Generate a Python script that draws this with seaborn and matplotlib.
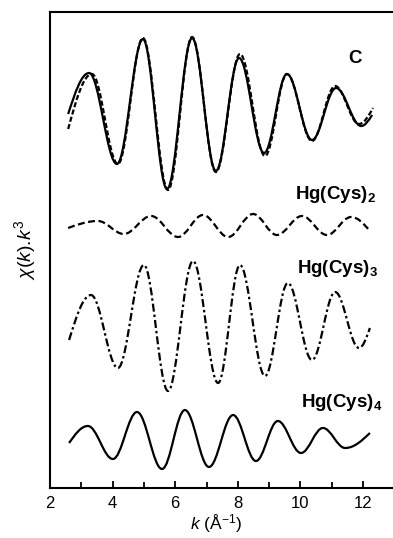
import numpy as np
import pandas as pd
import matplotlib
matplotlib.use("Agg")
import matplotlib.pyplot as plt
import seaborn as sns
from matplotlib.path import Path
from matplotlib.patches import PathPatch
from matplotlib.ticker import MultipleLocator

# ---- data (turning points of each k^3-weighted EXAFS trace) ----
k_C_exp = [2.58, 3.25, 4.14, 4.97, 5.74, 6.54, 7.30, 8.04, 8.84, 9.57, 10.37, 11.14, 11.94, 12.29]
chi_C_exp = [0.0, 4.1, -5.0, 7.5, -7.5, 7.6, -5.7, 5.6, -3.9, 4.0, -2.6, 2.6, -1.2, -0.1]

k_C_fit = [2.58, 3.34, 4.17, 4.97, 5.77, 6.54, 7.30, 8.07, 8.87, 9.57, 10.37, 11.11, 11.87, 12.32]
chi_C_fit = [-1.5, 4.0, -5.0, 7.6, -7.6, 7.7, -5.8, 6.0, -4.2, 4.0, -2.7, 2.8, -1.0, 0.6]

k_cys2 = [2.58, 3.53, 4.36, 5.23, 6.09, 6.89, 7.69, 8.49, 9.25, 10.05, 10.85, 11.62, 12.22]
chi_cys2 = [-0.2, 0.5, -0.8, 1.0, -1.1, 1.1, -1.1, 1.2, -0.9, 1.0, -0.9, 0.9, -0.5]

k_cys3 = [2.61, 3.31, 4.17, 5.00, 5.77, 6.57, 7.37, 8.07, 8.87, 9.60, 10.37, 11.11, 11.87, 12.22]
chi_cys3 = [-1.2, 3.3, -4.0, 6.3, -6.3, 6.7, -5.5, 6.3, -4.8, 4.5, -3.2, 3.6, -2.0, 0.0]

k_cys4 = [2.61, 3.21, 4.01, 4.78, 5.58, 6.31, 7.08, 7.85, 8.58, 9.28, 10.02, 10.72, 11.43, 12.22]
chi_cys4 = [-0.3, 1.4, -1.9, 2.8, -2.9, 3.0, -2.7, 2.5, -2.1, 1.9, -1.3, 1.2, -0.8, 0.7]

offsets = {"C": 37.4, "C fit": 37.4, "Hg(Cys)2": 26.2, "Hg(Cys)3": 16.0, "Hg(Cys)4": 4.8}
x_ticks = [2, 4, 6, 8, 10, 12]

# ---- style ----
sns.set_theme(style="ticks")
plt.rcParams["font.family"] = ["Liberation Sans", "DejaVu Sans"]
plt.rcParams["mathtext.fontset"] = "custom"
plt.rcParams["mathtext.rm"] = "Liberation Sans"
plt.rcParams["mathtext.it"] = "Liberation Sans:italic"
plt.rcParams["mathtext.bf"] = "Liberation Sans:bold"

fig = plt.figure(figsize=(3.93, 5.38), dpi=100)
# axes runs a little past the right edge of the picture, as in the reference
ax = fig.add_axes([50 / 393, 50 / 538, 350 / 393, 476 / 538])


def smooth_path(xs, ys):
    """Path through the turning points; the library renders smooth cubic segments."""
    verts = [(xs[0], ys[0])]
    codes = [Path.MOVETO]
    n = len(xs)
    for i in range(n - 1):
        x0, y0, x1, y1 = xs[i], ys[i], xs[i + 1], ys[i + 1]
        dx, dy = x1 - x0, y1 - y0
        if i == 0:
            c1 = (x0 + 0.334 * dx, y0 + 0.525 * dy)
        else:
            c1 = (x0 + 0.364 * dx, y0)
        if i + 1 == n - 1:
            c2 = (x1 - 0.334 * dx, y1 - 0.525 * dy)
        else:
            c2 = (x1 - 0.364 * dx, y1)
        verts += [c1, c2, (x1, y1)]
        codes += [Path.CURVE4] * 3
    return Path(verts, codes)


series = [
    (k_C_exp, chi_C_exp, "C", "-"),
    (k_C_fit, chi_C_fit, "C fit", (0, (2.3, 1.1))),
    (k_cys2, chi_cys2, "Hg(Cys)2", (0, (3.1, 1.6))),
    (k_cys3, chi_cys3, "Hg(Cys)3", (0, (3.6, 1.35, 1.1, 1.35))),
    (k_cys4, chi_cys4, "Hg(Cys)4", "-"),
]

for ks, chis, name, ls in series:
    df = pd.DataFrame({"k": ks, "chi": chis})
    y = (df["chi"] + offsets[name]).to_numpy()
    p = smooth_path(df["k"].to_numpy(), y)
    ax.add_patch(PathPatch(p, fill=False, edgecolor="black", lw=1.6,
                           linestyle=ls, capstyle="butt", joinstyle="round"))

ax.set_xlim(2, 2 + 350 / 31.3)
ax.set_ylim(0, 47.6)

ax.xaxis.set_major_locator(matplotlib.ticker.FixedLocator(x_ticks))
ax.xaxis.set_minor_locator(MultipleLocator(1))
ax.set_xticklabels([str(t) for t in x_ticks])
ax.set_yticks([])
ax.tick_params(axis="x", which="both", direction="in", bottom=True, top=False,
               width=1.3, color="black", labelsize=12, pad=6, labelcolor="black")
ax.tick_params(axis="x", which="major", length=5)
ax.tick_params(axis="x", which="minor", length=4)

for s in ax.spines.values():
    s.set_visible(True)
    s.set_linewidth(1.5)
    s.set_color("black")

ax.set_xlabel(r"$k$ (Å$^{-1}$)", fontsize=12.5, color="black")
ax.xaxis.set_label_coords((216 - 50) / 350, -0.051)
ax.set_ylabel(r"$\chi$($k$).$k^{3}$", fontsize=14, color="black")
ax.yaxis.set_label_coords(-0.034, 0.5)

lab = dict(fontsize=13.5, fontweight="bold", color="black", transform=ax.transAxes, va="baseline")
ax.text((348 - 50) / 350, 0.893, "C", **lab)
ax.text((295 - 50) / 350, 0.607, r"Hg(Cys)$_\mathbf{2}$", **lab)
ax.text((297 - 50) / 350, 0.452, r"Hg(Cys)$_\mathbf{3}$", **lab)
ax.text((301 - 50) / 350, 0.170, r"Hg(Cys)$_\mathbf{4}$", **lab)

fig.savefig("out.png", dpi=100)
